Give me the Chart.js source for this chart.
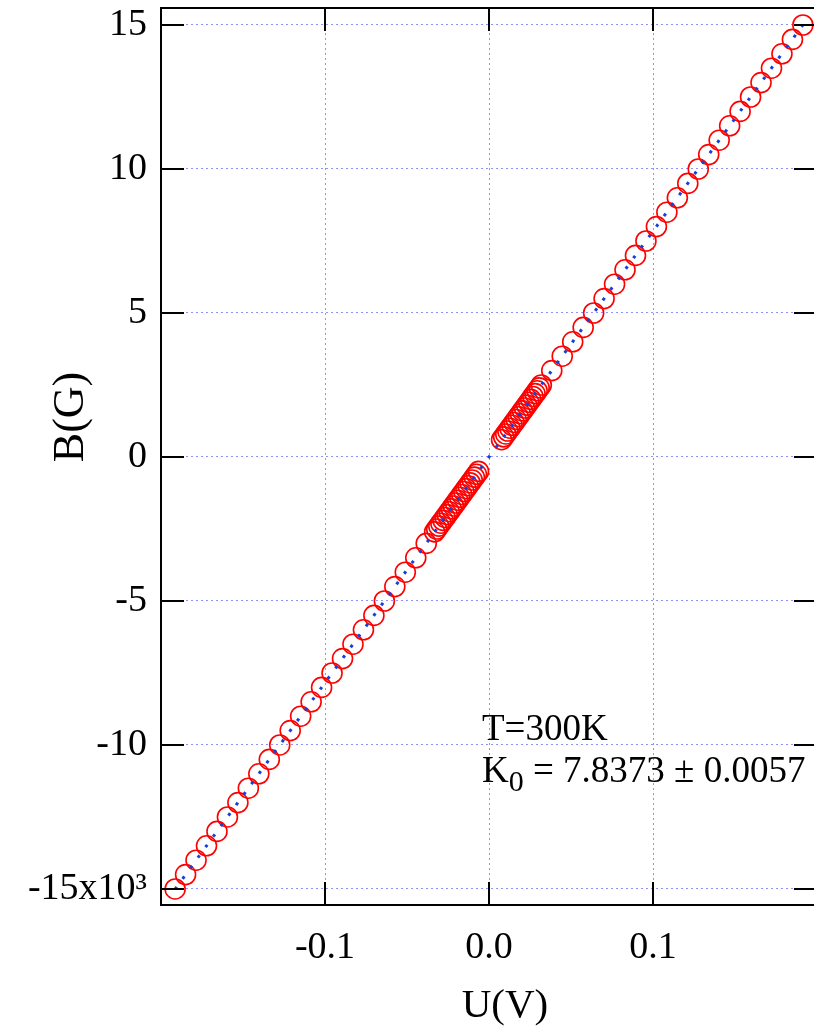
<!DOCTYPE html>
<html>
<head>
<meta charset="utf-8">
<script src="https://cdn.jsdelivr.net/npm/chart.js@4"></script>
<style>
  body { margin: 0; background: #fff; overflow: hidden; }
  #wrap { width: 814px; height: 1029px; position: relative; }
</style>
</head>
<body>
<div id="wrap"><canvas id="hallChart"></canvas></div>
<script>
// Hall probe calibration, B in units of 10^3 G
const voltage = [
    -0.19139, -0.18501, -0.17863, -0.17225, -0.16587, -0.15949, -0.15311, -0.14673, -0.14035, -0.13397,
    -0.12760, -0.12122, -0.11484, -0.10846, -0.10208, -0.09570, -0.08932, -0.08294, -0.07656, -0.07018,
    -0.06380, -0.05742, -0.05104, -0.04466, -0.03828,
    -0.03317, -0.03190, -0.03062, -0.02935, -0.02807, -0.02679, -0.02552, -0.02424, -0.02297, -0.02169,
    -0.02042, -0.01914, -0.01786, -0.01659, -0.01531, -0.01404, -0.01276, -0.01148, -0.01021, -0.00893,
    -0.00766, -0.00638,
    0.00766, 0.00893, 0.01021, 0.01148, 0.01276, 0.01404, 0.01531, 0.01659, 0.01786, 0.01914,
    0.02042, 0.02169, 0.02297, 0.02424, 0.02552, 0.02679, 0.02807, 0.02935, 0.03062, 0.03190,
    0.03828, 0.04466, 0.05104, 0.05742, 0.06380, 0.07018, 0.07656, 0.08294, 0.08932, 0.09570,
    0.10208, 0.10846, 0.11484, 0.12122, 0.12760, 0.13397, 0.14035, 0.14673, 0.15311, 0.15949,
    0.16587, 0.17225, 0.17863, 0.18501, 0.19139
];
const field = [
    -15.0, -14.5, -14.0, -13.5, -13.0, -12.5, -12.0, -11.5, -11.0, -10.5,
    -10.0, -9.5, -9.0, -8.5, -8.0, -7.5, -7.0, -6.5, -6.0, -5.5,
    -5.0, -4.5, -4.0, -3.5, -3.0,
    -2.6, -2.5, -2.4, -2.3, -2.2, -2.1, -2.0, -1.9, -1.8, -1.7,
    -1.6, -1.5, -1.4, -1.3, -1.2, -1.1, -1.0, -0.9, -0.8, -0.7,
    -0.6, -0.5,
    0.6, 0.7, 0.8, 0.9, 1.0, 1.1, 1.2, 1.3, 1.4, 1.5,
    1.6, 1.7, 1.8, 1.9, 2.0, 2.1, 2.2, 2.3, 2.4, 2.5,
    3.0, 3.5, 4.0, 4.5, 5.0, 5.5, 6.0, 6.5, 7.0, 7.5,
    8.0, 8.5, 9.0, 9.5, 10.0, 10.5, 11.0, 11.5, 12.0, 12.5,
    13.0, 13.5, 14.0, 14.5, 15.0
];
// linear fit line end points
const fitVoltage = [-0.1915, 0.1915];
const fitField = [-15.01, 15.01];

const xTicks = [-0.1, 0.0, 0.1];
const xTickLabels = ['-0.1', '0.0', '0.1'];
const yTicks = [-15, -10, -5, 0, 5, 10, 15];
const yTickLabels = ['-15x10\u00B3', '-10', '-5', '0', '5', '10', '15'];

const serif = "'Liberation Serif', 'Times New Roman', serif";

const framePlugin = {
    id: 'frame',
    afterDraw(chart) {
        const ctx = chart.ctx;
        const a = chart.chartArea;
        const x = chart.scales.x, y = chart.scales.y;
        ctx.save();
        ctx.strokeStyle = '#000';
        ctx.lineWidth = 2;
        ctx.beginPath();
        ctx.moveTo(a.right + 5, a.top);
        ctx.lineTo(a.left, a.top);
        ctx.lineTo(a.left, a.bottom);
        ctx.lineTo(a.right + 5, a.bottom);
        ctx.stroke();

        // inward ticks
        ctx.beginPath();
        xTicks.forEach(function(v) {
            const px = x.getPixelForValue(v);
            ctx.moveTo(px, a.bottom); ctx.lineTo(px, a.bottom - 23);
            ctx.moveTo(px, a.top); ctx.lineTo(px, a.top + 23);
        });
        yTicks.forEach(function(v) {
            const py = y.getPixelForValue(v);
            ctx.moveTo(a.left, py); ctx.lineTo(a.left + 23, py);
            ctx.moveTo(a.right, py); ctx.lineTo(a.right - 20, py);
        });
        ctx.stroke();

        // axis titles
        ctx.fillStyle = '#000';
        ctx.textAlign = 'center';
        ctx.textBaseline = 'middle';
        ctx.font = '41px ' + serif;
        ctx.fillText('U(V)', 505, 1006);
        ctx.save();
        ctx.translate(71, 417);
        ctx.rotate(-Math.PI / 2);
        ctx.font = '44px ' + serif;
        ctx.fillText('B(G)', 0, 0);
        ctx.restore();

        // annotation
        ctx.textAlign = 'left';
        ctx.textBaseline = 'alphabetic';
        ctx.font = '37px ' + serif;
        ctx.fillText('T=300K', 482, 740);
        ctx.fillText('K', 482, 782);
        let cx = 482 + ctx.measureText('K').width;
        ctx.font = '30px ' + serif;
        ctx.fillText('0', cx, 791);
        cx += ctx.measureText('0').width;
        ctx.font = '37px ' + serif;
        ctx.fillText(' = 7.8373 \u00B1 0.0057', cx, 782);
        ctx.restore();
    }
};

const gridColor = 'rgba(110,110,255,0.75)';

new Chart(document.getElementById('hallChart'), {
    type: 'scatter',
    data: {
        datasets: [{
            label: 'fit',
            data: fitVoltage.map(function(u, i) { return {x: u, y: fitField[i]}; }),
            showLine: true,
            borderColor: '#1640d8',
            borderWidth: 3,
            borderDash: [3, 10],
            pointRadius: 0,
            fill: false,
            order: 0,
            clip: false
        }, {
            label: 'data',
            data: voltage.map(function(u, i) { return {x: u, y: field[i]}; }),
            showLine: false,
            pointRadius: 10,
            pointBorderColor: '#ff0000',
            pointBackgroundColor: 'rgba(0,0,0,0)',
            pointBorderWidth: 1.6,
            order: 1,
            clip: false
        }]
    },
    options: {
        responsive: true,
        maintainAspectRatio: false,
        animation: false,
        events: [],
        layout: { autoPadding: false, padding: { top: 8, left: 0, right: 0, bottom: 0 } },
        plugins: { legend: { display: false }, tooltip: { enabled: false } },
        scales: {
            x: {
                type: 'linear',
                min: -0.2,
                max: 0.19817,
                afterBuildTicks: function(scale) { scale.ticks = xTicks.map(function(v) { return {value: v}; }); },
                afterFit: function(scale) {
                    scale.height = 124;
                    scale.paddingLeft = 0;
                    scale.paddingRight = 0;
                },
                ticks: {
                    callback: function(v, i) { return xTickLabels[i]; },
                    color: '#000',
                    font: { family: serif, size: 38 },
                    padding: 20,
                    maxRotation: 0,
                    autoSkip: false
                },
                grid: { color: gridColor, lineWidth: 1, drawTicks: false },
                border: { display: false, dash: [2, 3] }
            },
            y: {
                type: 'linear',
                min: -15.556,
                max: 15.59,
                afterBuildTicks: function(scale) { scale.ticks = yTicks.map(function(v) { return {value: v}; }); },
                afterFit: function(scale) {
                    scale.width = 161;
                    scale.paddingTop = 0;
                    scale.paddingBottom = 0;
                },
                ticks: {
                    callback: function(v, i) { return yTickLabels[i]; },
                    color: '#000',
                    font: { family: serif, size: 38 },
                    padding: 14,
                    autoSkip: false
                },
                grid: { color: gridColor, lineWidth: 1, drawTicks: false },
                border: { display: false, dash: [2, 3] }
            }
        }
    },
    plugins: [framePlugin]
});
</script>
</body>
</html>
